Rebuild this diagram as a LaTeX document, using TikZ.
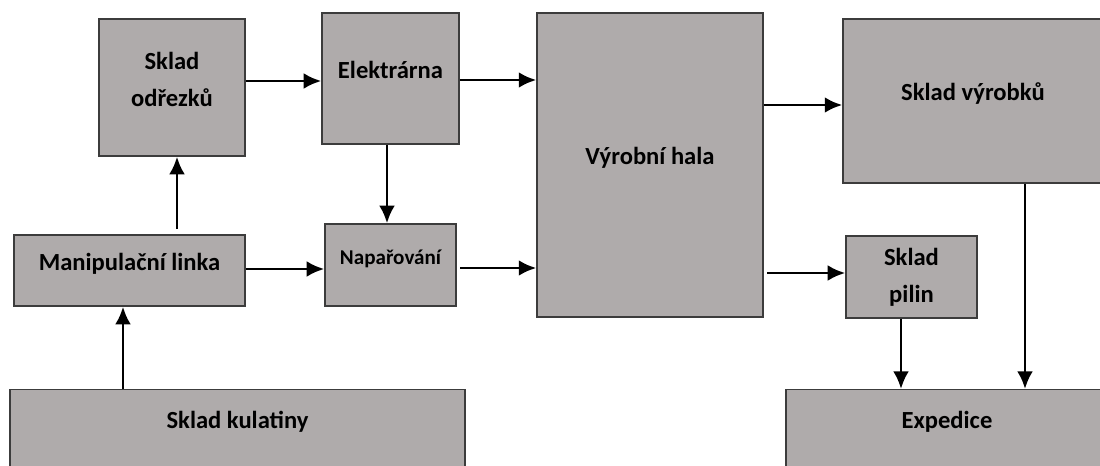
\documentclass[tikz,border=0pt]{standalone}
\usepackage{fontspec}
\setmainfont{Carlito}
\usepackage{tikz}
\usetikzlibrary{positioning,arrows.meta}
\definecolor{boxgray}{RGB}{175,171,171}
\definecolor{boxline}{RGB}{60,60,60}
\tikzset{
box/.style={
  draw=boxline,
  line width=0.8pt,
  fill=boxgray,
  align=center,
  font=\fontsize{14}{21}\selectfont\bfseries,
  inner sep=0pt
  },
onebox/.style={
  box,
  text height=6pt,
  text depth=6pt
  },
cutbox/.style={
  box,
  anchor=north,
  minimum height=2.6cm,
  text height=9pt,
  text depth=39pt
  },
flow/.style={->,line width=1.7pt}
}

\begin{document}
\begin{tikzpicture}[x=0.02cm,y=-0.02cm,>={Latex[length=10pt,width=9pt]}]
            \useasboundingbox (0,0) rectangle (1100,466);
            \clip (0,0) rectangle (1100,466);
            % top row
            \node[box,minimum width=2.92cm,minimum height=2.74cm,text depth=9pt] (odr) at (172,87.5) {Sklad\\odřezků};
            \node[onebox,minimum width=2.74cm,minimum height=2.62cm] (elek) at (390.5,78.5) {Elektrárna};
            \node[onebox,minimum width=4.52cm,minimum height=6.08cm] (hala) at (650,165) {Výrobní hala};
            \node[onebox,minimum width=5.2cm,minimum height=3.28cm] (vyr) at (973,101) {Sklad výrobků};
            % middle row
            \node[onebox,minimum width=4.62cm,minimum height=1.42cm] (man) at (129.5,270.5) {Manipulační linka};
            \node[onebox,minimum width=2.62cm,minimum height=1.64cm,font=\fontsize{12}{14}\selectfont\bfseries] (nap) at (390.5,265) {Napařování};
            \node[box,minimum width=2.62cm,minimum height=1.64cm] (pil) at (911.5,277) {Sklad\\pilin};
            % bottom row
            \node[cutbox,minimum width=9.1cm] (kul) at (237.5,389) {Sklad kulatiny};
            \node[cutbox,minimum width=6.44cm] (exp) at (947,389) {Expedice};
            % connectors
            \draw[flow] (kul.north -| 123,0) -- (man.south -| 123,0);
            \draw[flow,shorten <=3pt] (man.north -| 177,0) -- (odr.south -| 177,0);
            \draw[flow] (man.east |- 0,269) -- (nap.west |- 0,269);
            \draw[flow] (odr.east |- 0,81) -- (elek.west |- 0,81);
            \draw[flow] (elek.south -| 387,0) -- (nap.north -| 387,0);
            \draw[flow] (elek.east |- 0,80) -- (hala.west |- 0,80);
            \draw[flow,shorten <=2pt] (nap.east |- 0,268) -- (hala.west |- 0,268);
            \draw[flow] (hala.east |- 0,105) -- (vyr.west |- 0,105);
            \draw[flow,shorten <=2pt] (hala.east |- 0,273) -- (pil.west |- 0,273);
            \draw[flow] (pil.south -| 901,0) -- (exp.north -| 901,0);
            \draw[flow] (vyr.south -| 1025,0) -- (exp.north -| 1025,0);
        \end{tikzpicture}
\end{document}
